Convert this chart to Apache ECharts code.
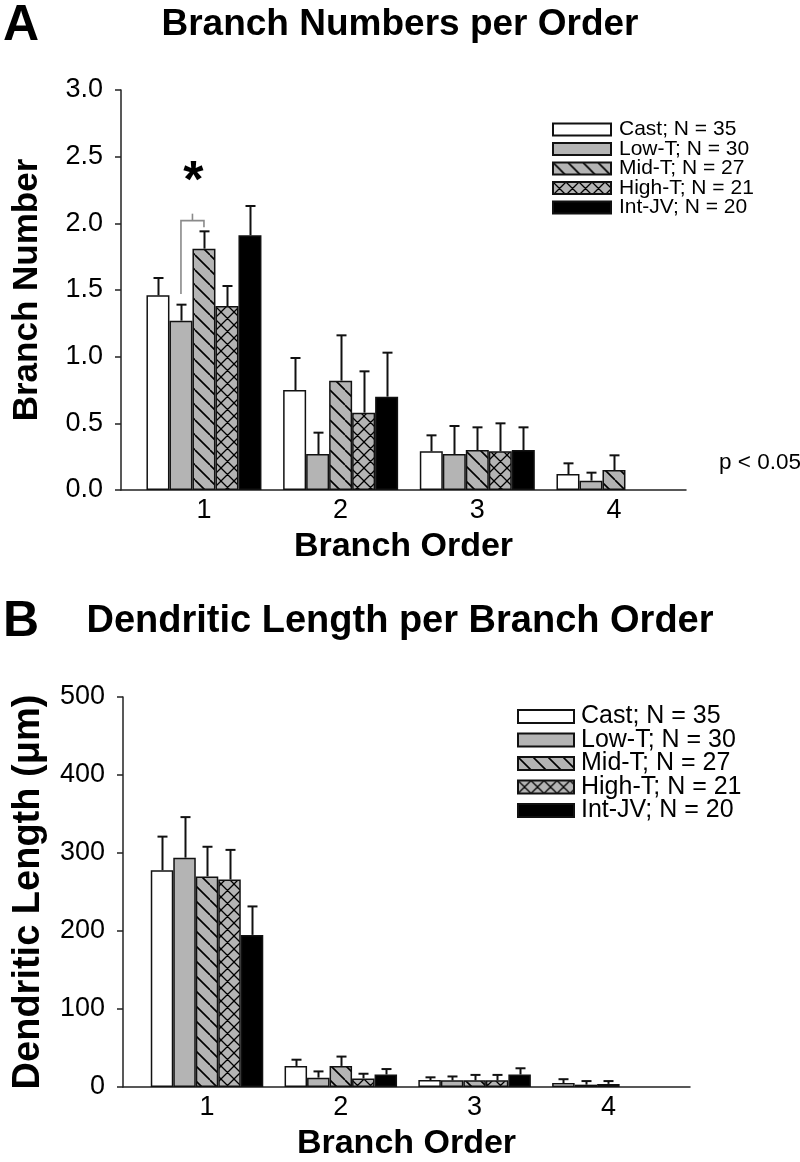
<!DOCTYPE html>
<html>
<head>
<meta charset="utf-8">
<script src="https://cdn.jsdelivr.net/npm/echarts@6/dist/echarts.min.js"></script>
<style>
    html, body { margin: 0; padding: 0; background: #fff; }
    #chart { width: 800px; height: 1162px; }
</style>
</head>
<body>
<div id="chart"></div>
<script>
// 分组 / 分支级数
const orders = [1, 2, 3, 4]
const groupNames = ['Cast; N = 35', 'Low-T; N = 30', 'Mid-T; N = 27', 'High-T; N = 21', 'Int-JV; N = 20']

// A: 每级分支数 (均值 / SEM)
const branchMean = [
    [1.46, 0.75, 0.29, 0.12],
    [1.27, 0.27, 0.27, 0.07],
    [1.81, 0.82, 0.30, 0.15],
    [1.38, 0.58, 0.29, null],
    [1.91, 0.70, 0.30, null],
]
const branchSem = [
    [0.13, 0.24, 0.12, 0.08],
    [0.12, 0.16, 0.21, 0.06],
    [0.13, 0.34, 0.17, 0.11],
    [0.15, 0.31, 0.21, null],
    [0.22, 0.33, 0.17, null],
]

// B: 每级树突长度 (µm)
const lengthMean = [
    [278, 27, 9, 5],
    [294, 12, 8.5, 3],
    [270, 27, 8.5, 4],
    [266, 11, 8.5, null],
    [195, 16, 16, null],
]
const lengthSem = [
    [43, 8, 3.4, 5],
    [52, 8, 5, 4.6],
    [38, 12, 7, 3.6],
    [38, 6, 7, null],
    [36.5, 7, 8, null],
]

// 显著性标记: order 1, Low-T vs Mid-T
const sigOrder = 1
const sigPair = [1, 2]
const sigLevels = [1.47, 1.97, 2.02] // 左脚底, 右脚底, 横线

const barW = [23, 22.5]

/**
 * 生成填充图案
 */
function makePattern(kind) {
    const s = kind === 'cross' ? 13 : 15
    const c = document.createElement('canvas')
    c.width = s
    c.height = s
    const ctx = c.getContext('2d')
    ctx.fillStyle = '#b4b4b4'
    ctx.fillRect(0, 0, s, s)
    ctx.strokeStyle = '#000'
    ctx.lineWidth = kind === 'cross' ? 1.3 : 1.6
    ctx.beginPath()
    for (let k = -1; k <= 1; k++) {
        ctx.moveTo(k * s, 0)
        ctx.lineTo(k * s + s, s)
        if (kind === 'cross') {
            ctx.moveTo(k * s + s, 0)
            ctx.lineTo(k * s, s)
        }
    }
    ctx.stroke()
    return { image: c, repeat: 'repeat' }
}

const fills = ['#ffffff', '#b4b4b4', makePattern('diag'), makePattern('cross'), '#000000']

const font = 'Liberation Sans, Arial, sans-serif'

function barSeries(means, gi) {
    return means.map((row, i) => ({
        name: groupNames[i],
        type: 'bar',
        xAxisIndex: gi,
        yAxisIndex: gi,
        barWidth: barW[gi],
        barGap: '0%',
        data: orders.map((o, j) => [o, row[j]]).filter((d) => d[1] != null),
        itemStyle: { color: fills[i], borderColor: '#111', borderWidth: 1.5 },
        emphasis: { disabled: true },
        z: 2,
    }))
}

function errSeries(means, sems, gi) {
    return means.map((row, i) => ({
        type: 'custom',
        xAxisIndex: gi,
        yAxisIndex: gi,
        data: orders.map((o, j) => [o, row[j], sems[i][j]]).filter((d) => d[1] != null),
        encode: { x: 0, y: 1 },
        silent: true,
        z: 3,
        renderItem: (params, api) => {
            const off = (i - 2) * barW[gi]
            const p0 = api.coord([api.value(0), api.value(1)])
            const p1 = api.coord([api.value(0), api.value(1) + api.value(2)])
            const x = Math.round(p0[0] + off) + 0.5
            const style = { stroke: '#111', lineWidth: 2 }
            return {
                type: 'group',
                children: [
                    { type: 'line', shape: { x1: x, y1: p0[1], x2: x, y2: p1[1] }, style },
                    { type: 'line', shape: { x1: x - 5, y1: p1[1], x2: x + 5, y2: p1[1] }, style },
                ],
            }
        },
    }))
}

const sigSeries = {
    type: 'custom',
    xAxisIndex: 0,
    yAxisIndex: 0,
    data: [[sigOrder, sigLevels[0], sigLevels[1], sigLevels[2]]],
    encode: { x: 0, y: 3 },
    silent: true,
    z: 4,
    renderItem: (params, api) => {
        const xl = api.coord([api.value(0), 0])[0] + (sigPair[0] - 2) * barW[0]
        const xr = api.coord([api.value(0), 0])[0] + (sigPair[1] - 2) * barW[0]
        const yl = api.coord([0, api.value(1)])[1]
        const yr = api.coord([0, api.value(2)])[1]
        const yt = api.coord([0, api.value(3)])[1]
        const xm = (xl + xr) / 2
        const style = { stroke: '#8a8a8a', lineWidth: 1.6, fill: null }
        return {
            type: 'group',
            children: [
                { type: 'polyline', shape: { points: [[xl, yl], [xl, yt], [xr, yt], [xr, yr]] }, style },
                { type: 'line', shape: { x1: xm, y1: yt, x2: xm, y2: yt - 7 }, style },
                {
                    type: 'text',
                    x: xm + 1,
                    y: yt - 12,
                    style: { text: '*', fontSize: 52, fontWeight: 'bold', fontFamily: font, fill: '#000', align: 'center', verticalAlign: 'bottom' },
                },
            ],
        }
    },
}

function xAxisOf(gi, min, max) {
    return {
        gridIndex: gi,
        type: 'value',
        min,
        max,
        axisLine: { show: true, onZero: false, lineStyle: { color: '#222', width: 1.5 } },
        axisTick: { show: false },
        splitLine: { show: false },
        axisLabel: { customValues: orders, formatter: (v) => String(v), fontSize: 27, color: '#000', fontFamily: font, margin: 7 },
        name: 'Branch Order',
        nameLocation: 'middle',
        nameGap: 40,
        nameTextStyle: { fontSize: 34, fontWeight: 'bold', color: '#000', fontFamily: font },
    }
}

function yAxisOf(gi, max, interval, digits, name, gap, nameSize) {
    return {
        gridIndex: gi,
        type: 'value',
        min: 0,
        max,
        interval,
        axisLine: { show: true, lineStyle: { color: '#222', width: 1.5 } },
        axisTick: { show: true, length: 6, lineStyle: { color: '#222', width: 1.5 } },
        splitLine: { show: false },
        axisLabel: { formatter: (v) => v.toFixed(digits), fontSize: 27, color: '#000', fontFamily: font, margin: 18 },
        name,
        nameLocation: 'middle',
        nameGap: gap,
        nameTextStyle: { fontSize: nameSize, fontWeight: 'bold', color: '#000', fontFamily: font },
    }
}

const chart = echarts.init(document.getElementById('chart'), null, { renderer: 'canvas' })

const option = {
    backgroundColor: '#fff',
    animation: false,
    title: [
        { text: 'A', left: -2, top: -4, textStyle: { fontSize: 50, fontWeight: 'bold', color: '#000', fontFamily: font } },
        { text: 'Branch Numbers per Order', left: 'center', top: 1, textStyle: { fontSize: 37, fontWeight: 'bold', color: '#000', fontFamily: font } },
        { text: 'B', left: -2, top: 592, textStyle: { fontSize: 50, fontWeight: 'bold', color: '#000', fontFamily: font } },
        { text: 'Dendritic Length per Branch Order', left: 'center', top: 598, textStyle: { fontSize: 38, fontWeight: 'bold', color: '#000', fontFamily: font } },
    ],
    legend: [
        {
            data: groupNames,
            left: 547,
            top: 114,
            orient: 'vertical',
            itemWidth: 58,
            itemHeight: 12,
            itemGap: -1.5,
            selectedMode: false,
            icon: 'rect',
            textStyle: { fontSize: 21, lineHeight: 19.3, color: '#000', fontFamily: font, padding: [0, 0, 0, 3] },
        },
        {
            data: groupNames,
            left: 512,
            top: 699,
            orient: 'vertical',
            itemWidth: 56,
            itemHeight: 13,
            itemGap: -1.5,
            selectedMode: false,
            icon: 'rect',
            textStyle: { fontSize: 25, lineHeight: 23.5, color: '#000', fontFamily: font, padding: [0, 0, 0, 2] },
        },
    ],
    grid: [
        { left: 121, top: 90, width: 565, height: 400 },
        { left: 123, top: 697, width: 567, height: 393 },
    ],
    xAxis: [xAxisOf(0, 0.393, 4.527), xAxisOf(1, 0.372, 4.61)],
    yAxis: [
        yAxisOf(0, 3, 0.5, 1, 'Branch Number', 76, 35),
        yAxisOf(1, 500, 100, 0, 'Dendritic Length (\u03bcm)', 75, 38),
    ],
    graphic: [
        {
            type: 'text',
            left: 719,
            top: 451,
            style: { text: 'p < 0.05', fontSize: 22.5, fill: '#000', fontFamily: font },
        },
    ],
    series: [
        ...barSeries(branchMean, 0),
        ...errSeries(branchMean, branchSem, 0),
        sigSeries,
        ...barSeries(lengthMean, 1),
        ...errSeries(lengthMean, lengthSem, 1),
    ],
}

chart.setOption(option)

window.addEventListener('resize', () => {
    chart.resize()
})
</script>
</body>
</html>
